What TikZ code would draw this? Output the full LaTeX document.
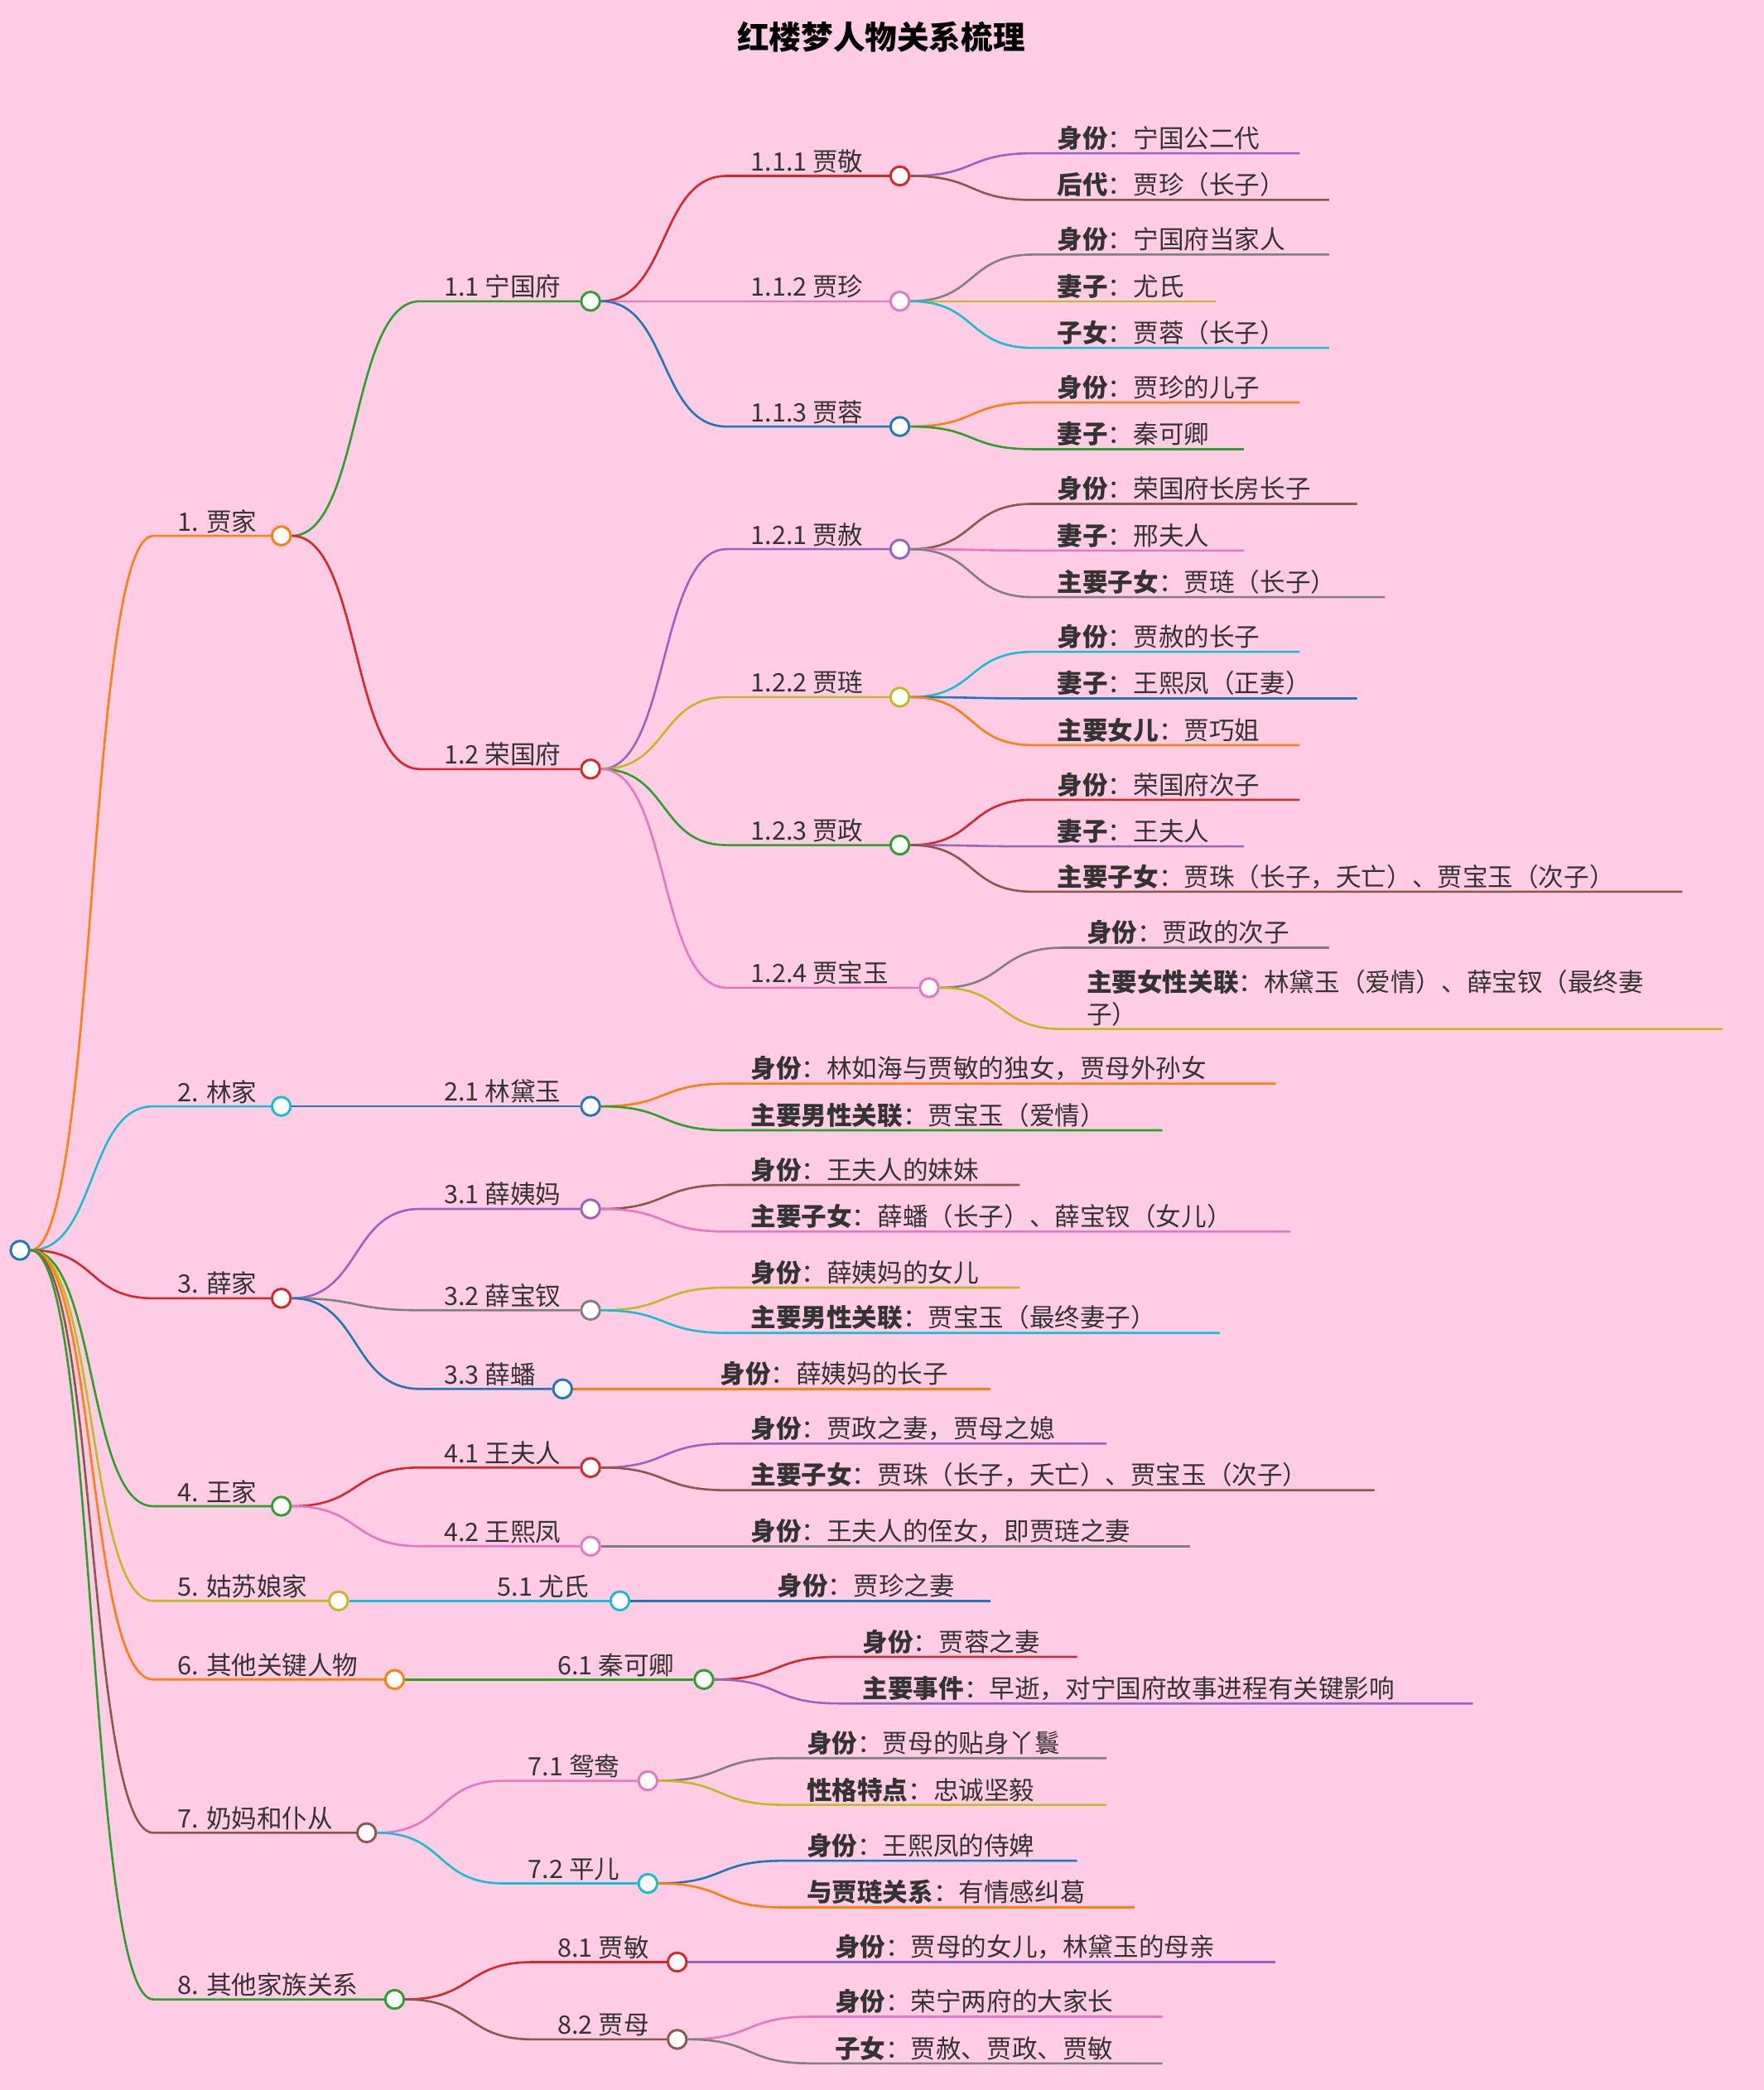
\documentclass[tikz,border=0pt]{standalone}
\usepackage{fontspec}
\setmainfont{Noto Sans CJK SC}
\usetikzlibrary{calc}
\definecolor{bgpink}{HTML}{FFCCE5}
\definecolor{txt}{HTML}{333333}
\definecolor{orange}{HTML}{FF7F0E}
\definecolor{cyan}{HTML}{17BECF}
\definecolor{red}{HTML}{D62728}
\definecolor{green}{HTML}{2CA02C}
\definecolor{olive}{HTML}{BCBD22}
\definecolor{brown}{HTML}{8C564B}
\definecolor{pink}{HTML}{E377C2}
\definecolor{purple}{HTML}{9467BD}
\definecolor{gray}{HTML}{7F7F7F}
\definecolor{blue}{HTML}{1F77B4}
\tikzset{
  dot/.style={circle, fill=white, line width=1.8pt, minimum size=14pt, inner sep=0pt},
  branch/.style={line width=1.6pt},
  lbl/.style={anchor=south west, inner sep=2pt, text=txt, font=\fontsize{19}{24}\selectfont}
}
\begin{document}
\begin{tikzpicture}[x=1pt, y=-1pt]
    \fill[bgpink] (0,0) rectangle (1323,1568);
    \node[font=\fontsize{24}{28}\selectfont\bfseries] (title) at (661,28) {红楼梦人物关系梳理};

    \node[dot, draw=blue] (r) at (15,938) {};

    % inner nodes: name/parent/px/sx/x/y/colour/label
    \foreach \n/\p/\px/\sx/\x/\y/\c/\t in {
        a/r/15/115/211/402/orange/1. 贾家,
        b/r/15/115/211/830/cyan/2. 林家,
        c/r/15/115/211/974/red/3. 薛家,
        d/r/15/115/211/1130/green/4. 王家,
        e/r/15/115/254/1201/olive/5. 姑苏娘家,
        f/r/15/115/296/1260/orange/6. 其他关键人物,
        g/r/15/115/275/1375/brown/7. 奶妈和仆从,
        h/r/15/115/296/1500/green/8. 其他家族关系,
        a1/a/211/315/443/226/green/1.1 宁国府,
        a2/a/211/315/443/577/red/1.2 荣国府,
        a11/a1/443/545/675/132/red/1.1.1 贾敬,
        a12/a1/443/545/675/226/pink/1.1.2 贾珍,
        a13/a1/443/545/675/320/blue/1.1.3 贾蓉,
        a21/a2/443/545/675/412/purple/1.2.1 贾赦,
        a22/a2/443/545/675/523/olive/1.2.2 贾琏,
        a23/a2/443/545/675/634/green/1.2.3 贾政,
        a24/a2/443/545/697/741/pink/1.2.4 贾宝玉,
        b1/b/211/315/443/830/blue/2.1 林黛玉,
        c1/c/211/315/443/907/purple/3.1 薛姨妈,
        c2/c/211/315/443/983/gray/3.2 薛宝钗,
        c3/c/211/315/422/1042/blue/3.3 薛蟠,
        d1/d/211/315/443/1101/red/4.1 王夫人,
        d2/d/211/315/443/1160/pink/4.2 王熙凤,
        e1/e/254/355/465/1201/cyan/5.1 尤氏,
        f1/f/296/400/528/1260/green/6.1 秦可卿,
        g1/g/275/378/486/1336/pink/7.1 鸳鸯,
        g2/g/275/378/486/1413/cyan/7.2 平儿,
        h1/h/296/400/508/1472/red/8.1 贾敏,
        h2/h/296/400/508/1530/brown/8.2 贾母}
    {
        \pgfmathsetmacro\hh{(\sx-\px)/2}
        \node[dot, draw=\c] (\n) at (\x,\y) {};
        \draw[branch, \c] (\p.east) .. controls +(\hh,0) and +(-\hh,0) .. (\sx,\y) -- (\n.west);
        \node[lbl] (t\n) at (\sx+16,\y) {\t};
    }

    % leaves: parent/px/sx/y/end/colour/text
    \foreach \p/\px/\sx/\y/\ex/\c/\t in {
        a11/675/775/115/975/purple/{\textbf{身份}：宁国公二代},
        a11/675/775/150/997/brown/{\textbf{后代}：贾珍（长子）},
        a12/675/775/191/997/gray/{\textbf{身份}：宁国府当家人},
        a12/675/775/226/912/olive/{\textbf{妻子}：尤氏},
        a12/675/775/261/997/cyan/{\textbf{子女}：贾蓉（长子）},
        a13/675/775/302/975/orange/{\textbf{身份}：贾珍的儿子},
        a13/675/775/337/933/green/{\textbf{妻子}：秦可卿},
        a21/675/775/378/1018/brown/{\textbf{身份}：荣国府长房长子},
        a21/675/775/413/933/pink/{\textbf{妻子}：邢夫人},
        a21/675/775/448/1039/gray/{\textbf{主要子女}：贾琏（长子）},
        a22/675/775/489/975/cyan/{\textbf{身份}：贾赦的长子},
        a22/675/775/524/1018/blue/{\textbf{妻子}：王熙凤（正妻）},
        a22/675/775/559/975/orange/{\textbf{主要女儿}：贾巧姐},
        a23/675/775/600/975/red/{\textbf{身份}：荣国府次子},
        a23/675/775/635/933/purple/{\textbf{妻子}：王夫人},
        a23/675/775/669/1262/brown/{\textbf{主要子女}：贾珠（长子，夭亡）、贾宝玉（次子）},
        a24/697/797/711/997/gray/{\textbf{身份}：贾政的次子},
        a24/697/797/772/1292/olive/{\textbf{主要女性关联}：林黛玉（爱情）、薛宝钗（最终妻\\子）},
        b1/443/545/813/957/orange/{\textbf{身份}：林如海与贾敏的独女，贾母外孙女},
        b1/443/545/848/872/green/{\textbf{主要男性关联}：贾宝玉（爱情）},
        c1/443/545/889/765/brown/{\textbf{身份}：王夫人的妹妹},
        c1/443/545/924/968/pink/{\textbf{主要子女}：薛蟠（长子）、薛宝钗（女儿）},
        c2/443/545/966/765/olive/{\textbf{身份}：薛姨妈的女儿},
        c2/443/545/1000/915/cyan/{\textbf{主要男性关联}：贾宝玉（最终妻子）},
        c3/422/522/1042/743/orange/{\textbf{身份}：薛姨妈的长子},
        d1/443/545/1083/830/purple/{\textbf{身份}：贾政之妻，贾母之媳},
        d1/443/545/1118/1031/brown/{\textbf{主要子女}：贾珠（长子，夭亡）、贾宝玉（次子）},
        d2/443/545/1160/893/gray/{\textbf{身份}：王夫人的侄女，即贾琏之妻},
        e1/465/565/1201/743/blue/{\textbf{身份}：贾珍之妻},
        f1/528/629/1243/808/red/{\textbf{身份}：贾蓉之妻},
        f1/528/629/1278/1105/purple/{\textbf{主要事件}：早逝，对宁国府故事进程有关键影响},
        g1/486/587/1319/830/gray/{\textbf{身份}：贾母的贴身丫鬟},
        g1/486/587/1354/830/olive/{\textbf{性格特点}：忠诚坚毅},
        g2/486/587/1396/808/blue/{\textbf{身份}：王熙凤的侍婢},
        g2/486/587/1431/851/orange/{\textbf{与贾琏关系}：有情感纠葛},
        h1/508/608/1472/957/purple/{\textbf{身份}：贾母的女儿，林黛玉的母亲},
        h2/508/608/1513/872/pink/{\textbf{身份}：荣宁两府的大家长},
        h2/508/608/1548/872/gray/{\textbf{子女}：贾赦、贾政、贾敏}}
    {
        \pgfmathsetmacro\hh{(\sx-\px)/2}
        \coordinate (s) at (\sx,\y);
        \coordinate (e) at (\ex,\y);
        \draw[branch, \c] (\p.east) .. controls +(\hh,0) and +(-\hh,0) .. (s) -- (e);
        \node[lbl, align=left] at (\sx+16,\y) {\t};
    }
\end{tikzpicture}
\end{document}
